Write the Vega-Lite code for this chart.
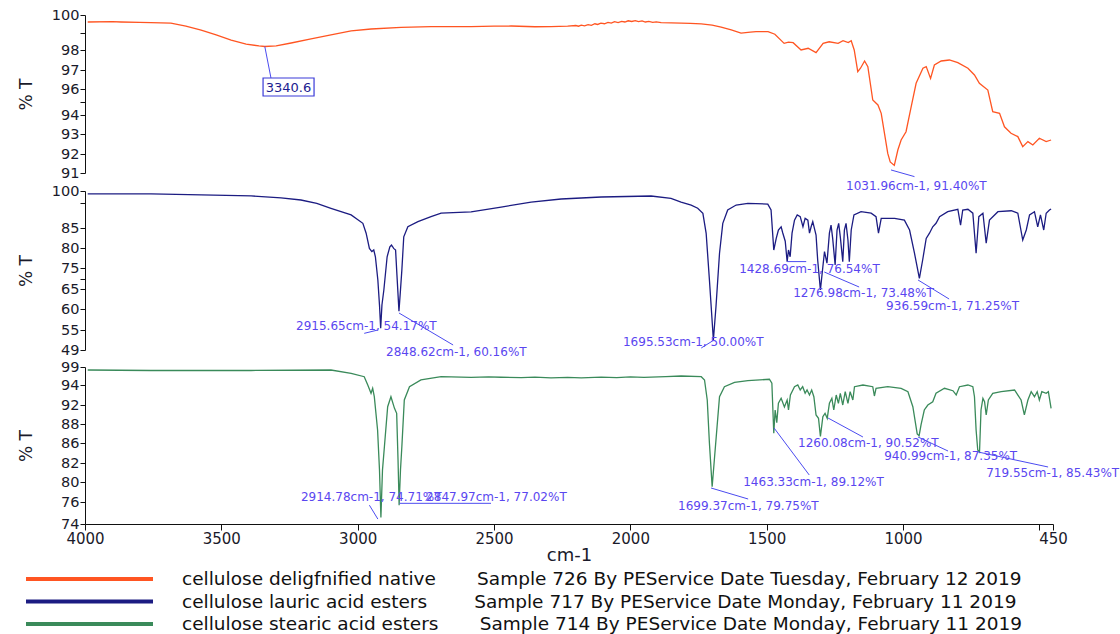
{
  "$schema": "https://vega.github.io/schema/vega-lite/v6.json",
  "padding": {"left": 17, "top": 0, "right": 0, "bottom": 0},
  "background": "white",
  "spacing": 0,
  "bounds": "flush",
  "config": {
    "view": {"stroke": null},
    "font": "DejaVu Sans",
    "axis": {"grid": false, "domainColor": "#111111", "tickColor": "#111111", "labelColor": "#1a1a2a", "titleColor": "#1a1a2a", "labelFont": "DejaVu Sans", "titleFont": "DejaVu Sans", "titleFontWeight": "normal", "labelFontSize": 14.5, "titleFontSize": 17, "tickSize": 5, "labelPadding": 1, "labelFlush": false, "labelOverlap": false, "tickCount": 100}
  },
  "resolve": {"scale": {"x": "independent", "y": "independent", "color": "independent"}, "axis": {"x": "independent", "y": "independent"}, "legend": {"color": "independent"}},
  "datasets": {
    "spectra": [
      {"s": "A", "wn": 3990, "t": 99.6}, {"s": "A", "wn": 3900, "t": 99.62}, {"s": "A", "wn": 3868, "t": 99.6}, {"s": "A", "wn": 3800, "t": 99.58}, {"s": "A", "wn": 3758, "t": 99.57}, {"s": "A", "wn": 3685, "t": 99.54}, {"s": "A", "wn": 3630, "t": 99.37}, {"s": "A", "wn": 3574, "t": 99.14}, {"s": "A", "wn": 3519, "t": 98.86}, {"s": "A", "wn": 3464, "t": 98.57}, {"s": "A", "wn": 3409, "t": 98.34}, {"s": "A", "wn": 3362, "t": 98.23}, {"s": "A", "wn": 3340.6, "t": 98.2}, {"s": "A", "wn": 3299, "t": 98.23}, {"s": "A", "wn": 3244, "t": 98.4}, {"s": "A", "wn": 3171, "t": 98.63}, {"s": "A", "wn": 3098, "t": 98.86}, {"s": "A", "wn": 3024, "t": 99.09}, {"s": "A", "wn": 2951, "t": 99.2}, {"s": "A", "wn": 2841, "t": 99.29}, {"s": "A", "wn": 2731, "t": 99.34}, {"s": "A", "wn": 2650, "t": 99.33}, {"s": "A", "wn": 2584, "t": 99.34}, {"s": "A", "wn": 2500, "t": 99.36}, {"s": "A", "wn": 2437, "t": 99.37}, {"s": "A", "wn": 2350, "t": 99.33}, {"s": "A", "wn": 2291, "t": 99.34}, {"s": "A", "wn": 2230, "t": 99.36}, {"s": "A", "wn": 2200, "t": 99.4}, {"s": "A", "wn": 2190, "t": 99.36}, {"s": "A", "wn": 2180, "t": 99.42}, {"s": "A", "wn": 2168, "t": 99.38}, {"s": "A", "wn": 2155, "t": 99.45}, {"s": "A", "wn": 2143, "t": 99.41}, {"s": "A", "wn": 2130, "t": 99.5}, {"s": "A", "wn": 2120, "t": 99.46}, {"s": "A", "wn": 2108, "t": 99.53}, {"s": "A", "wn": 2095, "t": 99.5}, {"s": "A", "wn": 2082, "t": 99.58}, {"s": "A", "wn": 2070, "t": 99.54}, {"s": "A", "wn": 2058, "t": 99.62}, {"s": "A", "wn": 2045, "t": 99.57}, {"s": "A", "wn": 2032, "t": 99.64}, {"s": "A", "wn": 2020, "t": 99.6}, {"s": "A", "wn": 2008, "t": 99.67}, {"s": "A", "wn": 1995, "t": 99.63}, {"s": "A", "wn": 1982, "t": 99.68}, {"s": "A", "wn": 1970, "t": 99.62}, {"s": "A", "wn": 1957, "t": 99.66}, {"s": "A", "wn": 1945, "t": 99.6}, {"s": "A", "wn": 1932, "t": 99.63}, {"s": "A", "wn": 1918, "t": 99.58}, {"s": "A", "wn": 1905, "t": 99.61}, {"s": "A", "wn": 1887, "t": 99.57}, {"s": "A", "wn": 1850, "t": 99.55}, {"s": "A", "wn": 1814, "t": 99.54}, {"s": "A", "wn": 1780, "t": 99.52}, {"s": "A", "wn": 1740, "t": 99.49}, {"s": "A", "wn": 1700, "t": 99.42}, {"s": "A", "wn": 1667, "t": 99.31}, {"s": "A", "wn": 1630, "t": 99.15}, {"s": "A", "wn": 1594, "t": 98.97}, {"s": "A", "wn": 1560, "t": 99.02}, {"s": "A", "wn": 1539, "t": 99.05}, {"s": "A", "wn": 1495, "t": 99.05}, {"s": "A", "wn": 1470, "t": 98.9}, {"s": "A", "wn": 1436, "t": 98.38}, {"s": "A", "wn": 1420, "t": 98.45}, {"s": "A", "wn": 1403, "t": 98.42}, {"s": "A", "wn": 1374, "t": 98.0}, {"s": "A", "wn": 1348, "t": 98.1}, {"s": "A", "wn": 1319, "t": 97.87}, {"s": "A", "wn": 1293, "t": 98.38}, {"s": "A", "wn": 1271, "t": 98.47}, {"s": "A", "wn": 1238, "t": 98.38}, {"s": "A", "wn": 1220, "t": 98.53}, {"s": "A", "wn": 1201, "t": 98.42}, {"s": "A", "wn": 1190, "t": 98.53}, {"s": "A", "wn": 1179, "t": 98.0}, {"s": "A", "wn": 1166, "t": 96.91}, {"s": "A", "wn": 1156, "t": 97.09}, {"s": "A", "wn": 1141, "t": 97.45}, {"s": "A", "wn": 1129, "t": 97.17}, {"s": "A", "wn": 1111, "t": 95.15}, {"s": "A", "wn": 1092, "t": 94.77}, {"s": "A", "wn": 1080, "t": 94.13}, {"s": "A", "wn": 1068, "t": 93.03}, {"s": "A", "wn": 1056, "t": 92.03}, {"s": "A", "wn": 1047, "t": 91.58}, {"s": "A", "wn": 1031.96, "t": 91.4}, {"s": "A", "wn": 1019, "t": 92.2}, {"s": "A", "wn": 1007, "t": 92.7}, {"s": "A", "wn": 989, "t": 93.12}, {"s": "A", "wn": 970, "t": 94.64}, {"s": "A", "wn": 952, "t": 96.3}, {"s": "A", "wn": 927, "t": 97.09}, {"s": "A", "wn": 915, "t": 97.17}, {"s": "A", "wn": 899, "t": 96.56}, {"s": "A", "wn": 885, "t": 97.25}, {"s": "A", "wn": 860, "t": 97.45}, {"s": "A", "wn": 830, "t": 97.5}, {"s": "A", "wn": 799, "t": 97.37}, {"s": "A", "wn": 762, "t": 97.09}, {"s": "A", "wn": 738, "t": 96.74}, {"s": "A", "wn": 720, "t": 96.3}, {"s": "A", "wn": 689, "t": 95.92}, {"s": "A", "wn": 671, "t": 94.25}, {"s": "A", "wn": 646, "t": 94.13}, {"s": "A", "wn": 628, "t": 93.38}, {"s": "A", "wn": 604, "t": 93.04}, {"s": "A", "wn": 579, "t": 92.87}, {"s": "A", "wn": 561, "t": 92.37}, {"s": "A", "wn": 542, "t": 92.62}, {"s": "A", "wn": 524, "t": 92.45}, {"s": "A", "wn": 500, "t": 92.79}, {"s": "A", "wn": 475, "t": 92.62}, {"s": "A", "wn": 457, "t": 92.7},

      {"s": "B", "wn": 3990, "t": 98.8}, {"s": "B", "wn": 3758, "t": 98.8}, {"s": "B", "wn": 3574, "t": 98.4}, {"s": "B", "wn": 3391, "t": 98.0}, {"s": "B", "wn": 3281, "t": 97.2}, {"s": "B", "wn": 3208, "t": 96.35}, {"s": "B", "wn": 3150, "t": 95.0}, {"s": "B", "wn": 3098, "t": 93.0}, {"s": "B", "wn": 3024, "t": 90.3}, {"s": "B", "wn": 2981, "t": 86.9}, {"s": "B", "wn": 2969, "t": 83.7}, {"s": "B", "wn": 2957, "t": 79.9}, {"s": "B", "wn": 2948, "t": 79.1}, {"s": "B", "wn": 2941, "t": 79.5}, {"s": "B", "wn": 2935, "t": 77.8}, {"s": "B", "wn": 2926, "t": 69.3}, {"s": "B", "wn": 2920, "t": 61}, {"s": "B", "wn": 2915.65, "t": 55.4}, {"s": "B", "wn": 2911, "t": 61}, {"s": "B", "wn": 2904, "t": 64.75}, {"s": "B", "wn": 2892, "t": 77.8}, {"s": "B", "wn": 2882, "t": 80.3}, {"s": "B", "wn": 2876, "t": 80.75}, {"s": "B", "wn": 2868, "t": 79.9}, {"s": "B", "wn": 2861, "t": 79.5}, {"s": "B", "wn": 2856, "t": 71.7}, {"s": "B", "wn": 2848.6, "t": 59.5}, {"s": "B", "wn": 2843, "t": 64.75}, {"s": "B", "wn": 2838, "t": 74.0}, {"s": "B", "wn": 2831, "t": 82.8}, {"s": "B", "wn": 2816, "t": 85.5}, {"s": "B", "wn": 2779, "t": 87.6}, {"s": "B", "wn": 2731, "t": 89.6}, {"s": "B", "wn": 2694, "t": 91.0}, {"s": "B", "wn": 2584, "t": 91.5}, {"s": "B", "wn": 2474, "t": 93.5}, {"s": "B", "wn": 2364, "t": 95.5}, {"s": "B", "wn": 2254, "t": 96.76}, {"s": "B", "wn": 2107, "t": 97.57}, {"s": "B", "wn": 1924, "t": 97.97}, {"s": "B", "wn": 1851, "t": 97.0}, {"s": "B", "wn": 1814, "t": 95.5}, {"s": "B", "wn": 1777, "t": 94.3}, {"s": "B", "wn": 1753, "t": 93.0}, {"s": "B", "wn": 1734, "t": 90.96}, {"s": "B", "wn": 1722, "t": 83.68}, {"s": "B", "wn": 1710, "t": 69.29}, {"s": "B", "wn": 1695.5, "t": 52.0}, {"s": "B", "wn": 1686, "t": 60.58}, {"s": "B", "wn": 1673, "t": 78.68}, {"s": "B", "wn": 1661, "t": 86.9}, {"s": "B", "wn": 1643, "t": 92.3}, {"s": "B", "wn": 1612, "t": 94.3}, {"s": "B", "wn": 1569, "t": 95.0}, {"s": "B", "wn": 1496, "t": 94.7}, {"s": "B", "wn": 1484, "t": 92.3}, {"s": "B", "wn": 1474, "t": 79.5}, {"s": "B", "wn": 1465, "t": 82.4}, {"s": "B", "wn": 1457, "t": 84.5}, {"s": "B", "wn": 1447, "t": 85.5}, {"s": "B", "wn": 1441, "t": 83.75}, {"s": "B", "wn": 1432, "t": 81.7}, {"s": "B", "wn": 1425, "t": 76.6}, {"s": "B", "wn": 1420, "t": 79.5}, {"s": "B", "wn": 1414, "t": 77.8}, {"s": "B", "wn": 1407, "t": 83.7}, {"s": "B", "wn": 1398, "t": 88.2}, {"s": "B", "wn": 1388, "t": 90.3}, {"s": "B", "wn": 1377, "t": 89.6}, {"s": "B", "wn": 1367, "t": 85.5}, {"s": "B", "wn": 1359, "t": 88.9}, {"s": "B", "wn": 1349, "t": 88.2}, {"s": "B", "wn": 1343, "t": 83.7}, {"s": "B", "wn": 1337, "t": 85.5}, {"s": "B", "wn": 1331, "t": 87.6}, {"s": "B", "wn": 1325, "t": 84.9}, {"s": "B", "wn": 1319, "t": 83.25}, {"s": "B", "wn": 1313, "t": 77.0}, {"s": "B", "wn": 1303, "t": 64.75}, {"s": "B", "wn": 1294, "t": 75.3}, {"s": "B", "wn": 1288, "t": 79.1}, {"s": "B", "wn": 1279, "t": 76.2}, {"s": "B", "wn": 1270, "t": 83.7}, {"s": "B", "wn": 1264, "t": 86.2}, {"s": "B", "wn": 1258, "t": 82.4}, {"s": "B", "wn": 1249, "t": 75.75}, {"s": "B", "wn": 1242, "t": 84.5}, {"s": "B", "wn": 1236, "t": 86.9}, {"s": "B", "wn": 1230, "t": 82.8}, {"s": "B", "wn": 1221, "t": 76.6}, {"s": "B", "wn": 1215, "t": 84.5}, {"s": "B", "wn": 1209, "t": 86.9}, {"s": "B", "wn": 1202, "t": 82.0}, {"s": "B", "wn": 1197, "t": 76.6}, {"s": "B", "wn": 1190, "t": 84.5}, {"s": "B", "wn": 1180, "t": 90.3}, {"s": "B", "wn": 1154, "t": 91.6}, {"s": "B", "wn": 1117, "t": 91.0}, {"s": "B", "wn": 1099, "t": 89.6}, {"s": "B", "wn": 1090, "t": 83.7}, {"s": "B", "wn": 1080, "t": 88.9}, {"s": "B", "wn": 1031, "t": 88.9}, {"s": "B", "wn": 995, "t": 88.2}, {"s": "B", "wn": 976, "t": 84.5}, {"s": "B", "wn": 958, "t": 78.7}, {"s": "B", "wn": 940, "t": 70.1}, {"s": "B", "wn": 928, "t": 77.0}, {"s": "B", "wn": 915, "t": 82.4}, {"s": "B", "wn": 903, "t": 83.7}, {"s": "B", "wn": 891, "t": 85.5}, {"s": "B", "wn": 879, "t": 86.9}, {"s": "B", "wn": 866, "t": 89.6}, {"s": "B", "wn": 836, "t": 91.6}, {"s": "B", "wn": 799, "t": 92.6}, {"s": "B", "wn": 789, "t": 86.2}, {"s": "B", "wn": 781, "t": 92.3}, {"s": "B", "wn": 762, "t": 92.6}, {"s": "B", "wn": 744, "t": 91.0}, {"s": "B", "wn": 732, "t": 78.7}, {"s": "B", "wn": 722, "t": 89.6}, {"s": "B", "wn": 707, "t": 91.0}, {"s": "B", "wn": 695, "t": 81.2}, {"s": "B", "wn": 683, "t": 88.2}, {"s": "B", "wn": 652, "t": 91.6}, {"s": "B", "wn": 603, "t": 92.0}, {"s": "B", "wn": 579, "t": 91.0}, {"s": "B", "wn": 561, "t": 82.0}, {"s": "B", "wn": 548, "t": 84.5}, {"s": "B", "wn": 536, "t": 90.3}, {"s": "B", "wn": 518, "t": 91.6}, {"s": "B", "wn": 506, "t": 85.5}, {"s": "B", "wn": 496, "t": 90.3}, {"s": "B", "wn": 484, "t": 84.5}, {"s": "B", "wn": 475, "t": 91.0}, {"s": "B", "wn": 463, "t": 92.3}, {"s": "B", "wn": 457, "t": 92.7},

      {"s": "C", "wn": 3990, "t": 98.17}, {"s": "C", "wn": 3758, "t": 98.03}, {"s": "C", "wn": 3391, "t": 98.03}, {"s": "C", "wn": 3098, "t": 98.17}, {"s": "C", "wn": 3024, "t": 97.25}, {"s": "C", "wn": 2976, "t": 96.3}, {"s": "C", "wn": 2963, "t": 94.0}, {"s": "C", "wn": 2951, "t": 93.17}, {"s": "C", "wn": 2945, "t": 93.67}, {"s": "C", "wn": 2939, "t": 92.83}, {"s": "C", "wn": 2927, "t": 87.37}, {"s": "C", "wn": 2920, "t": 81.26}, {"s": "C", "wn": 2914.8, "t": 74.6}, {"s": "C", "wn": 2909, "t": 81.26}, {"s": "C", "wn": 2902, "t": 85.26}, {"s": "C", "wn": 2890, "t": 91.64}, {"s": "C", "wn": 2878, "t": 92.83}, {"s": "C", "wn": 2865, "t": 91.3}, {"s": "C", "wn": 2857, "t": 90.24}, {"s": "C", "wn": 2852, "t": 82.6}, {"s": "C", "wn": 2848, "t": 75.7}, {"s": "C", "wn": 2843, "t": 81.26}, {"s": "C", "wn": 2838, "t": 85.26}, {"s": "C", "wn": 2829, "t": 92.5}, {"s": "C", "wn": 2810, "t": 93.83}, {"s": "C", "wn": 2768, "t": 95.4}, {"s": "C", "wn": 2694, "t": 96.3}, {"s": "C", "wn": 2584, "t": 96.1}, {"s": "C", "wn": 2520, "t": 96.25}, {"s": "C", "wn": 2474, "t": 96.15}, {"s": "C", "wn": 2400, "t": 96.05}, {"s": "C", "wn": 2350, "t": 96.2}, {"s": "C", "wn": 2291, "t": 96.0}, {"s": "C", "wn": 2230, "t": 96.1}, {"s": "C", "wn": 2180, "t": 96.0}, {"s": "C", "wn": 2107, "t": 96.2}, {"s": "C", "wn": 2050, "t": 96.05}, {"s": "C", "wn": 2000, "t": 96.25}, {"s": "C", "wn": 1950, "t": 96.1}, {"s": "C", "wn": 1924, "t": 96.2}, {"s": "C", "wn": 1870, "t": 96.35}, {"s": "C", "wn": 1814, "t": 96.5}, {"s": "C", "wn": 1740, "t": 96.3}, {"s": "C", "wn": 1728, "t": 95.4}, {"s": "C", "wn": 1718, "t": 92.5}, {"s": "C", "wn": 1710, "t": 85.94}, {"s": "C", "wn": 1700, "t": 79.06}, {"s": "C", "wn": 1692, "t": 82.6}, {"s": "C", "wn": 1682, "t": 87.72}, {"s": "C", "wn": 1673, "t": 92.83}, {"s": "C", "wn": 1655, "t": 93.83}, {"s": "C", "wn": 1618, "t": 94.73}, {"s": "C", "wn": 1569, "t": 95.2}, {"s": "C", "wn": 1490, "t": 95.6}, {"s": "C", "wn": 1481, "t": 94.5}, {"s": "C", "wn": 1474, "t": 87.02}, {"s": "C", "wn": 1469, "t": 90.95}, {"s": "C", "wn": 1463, "t": 88.28}, {"s": "C", "wn": 1457, "t": 92.17}, {"s": "C", "wn": 1447, "t": 92.67}, {"s": "C", "wn": 1435, "t": 91.6}, {"s": "C", "wn": 1425, "t": 92.5}, {"s": "C", "wn": 1420, "t": 90.95}, {"s": "C", "wn": 1413, "t": 93.0}, {"s": "C", "wn": 1398, "t": 93.83}, {"s": "C", "wn": 1386, "t": 94.0}, {"s": "C", "wn": 1377, "t": 93.5}, {"s": "C", "wn": 1368, "t": 93.83}, {"s": "C", "wn": 1359, "t": 93.17}, {"s": "C", "wn": 1352, "t": 93.5}, {"s": "C", "wn": 1343, "t": 93.0}, {"s": "C", "wn": 1335, "t": 93.5}, {"s": "C", "wn": 1327, "t": 92.83}, {"s": "C", "wn": 1319, "t": 89.9}, {"s": "C", "wn": 1310, "t": 89.2}, {"s": "C", "wn": 1303, "t": 86.7}, {"s": "C", "wn": 1294, "t": 89.54}, {"s": "C", "wn": 1286, "t": 90.25}, {"s": "C", "wn": 1278, "t": 89.2}, {"s": "C", "wn": 1270, "t": 92.17}, {"s": "C", "wn": 1261, "t": 92.67}, {"s": "C", "wn": 1254, "t": 90.95}, {"s": "C", "wn": 1245, "t": 93.0}, {"s": "C", "wn": 1237, "t": 92.17}, {"s": "C", "wn": 1230, "t": 93.17}, {"s": "C", "wn": 1221, "t": 92.0}, {"s": "C", "wn": 1212, "t": 93.33}, {"s": "C", "wn": 1202, "t": 92.17}, {"s": "C", "wn": 1194, "t": 93.33}, {"s": "C", "wn": 1184, "t": 92.5}, {"s": "C", "wn": 1178, "t": 93.83}, {"s": "C", "wn": 1147, "t": 94.0}, {"s": "C", "wn": 1111, "t": 93.83}, {"s": "C", "wn": 1105, "t": 92.9}, {"s": "C", "wn": 1099, "t": 93.67}, {"s": "C", "wn": 1056, "t": 93.83}, {"s": "C", "wn": 1007, "t": 93.67}, {"s": "C", "wn": 982, "t": 93.33}, {"s": "C", "wn": 964, "t": 91.64}, {"s": "C", "wn": 948, "t": 86.95}, {"s": "C", "wn": 941, "t": 86.77}, {"s": "C", "wn": 934, "t": 87.9}, {"s": "C", "wn": 922, "t": 90.95}, {"s": "C", "wn": 909, "t": 92.0}, {"s": "C", "wn": 891, "t": 92.33}, {"s": "C", "wn": 879, "t": 93.17}, {"s": "C", "wn": 848, "t": 93.67}, {"s": "C", "wn": 817, "t": 93.43}, {"s": "C", "wn": 805, "t": 93.0}, {"s": "C", "wn": 793, "t": 93.83}, {"s": "C", "wn": 762, "t": 94.0}, {"s": "C", "wn": 744, "t": 93.83}, {"s": "C", "wn": 738, "t": 92.83}, {"s": "C", "wn": 732, "t": 87.37}, {"s": "C", "wn": 726, "t": 84.6}, {"s": "C", "wn": 719.5, "t": 84.2}, {"s": "C", "wn": 714, "t": 90.95}, {"s": "C", "wn": 707, "t": 92.67}, {"s": "C", "wn": 701, "t": 92.33}, {"s": "C", "wn": 695, "t": 89.9}, {"s": "C", "wn": 687, "t": 92.5}, {"s": "C", "wn": 671, "t": 93.17}, {"s": "C", "wn": 640, "t": 93.33}, {"s": "C", "wn": 591, "t": 93.5}, {"s": "C", "wn": 567, "t": 92.5}, {"s": "C", "wn": 555, "t": 89.9}, {"s": "C", "wn": 542, "t": 92.5}, {"s": "C", "wn": 530, "t": 93.33}, {"s": "C", "wn": 518, "t": 92.83}, {"s": "C", "wn": 508, "t": 93.33}, {"s": "C", "wn": 500, "t": 92.5}, {"s": "C", "wn": 491, "t": 93.33}, {"s": "C", "wn": 475, "t": 93.17}, {"s": "C", "wn": 467, "t": 93.33}, {"s": "C", "wn": 457, "t": 91.3}
    ],
    "notes": [
      {"p": 1, "label": "1031.96cm-1, 91.40%T", "wn": 1209, "t": 90.32, "x1": 1044, "y1": 91.16, "x2": 958, "y2": 90.81},
      {"p": 1, "label": "", "wn": 3340.6, "t": 98.2, "x1": 3340.6, "y1": 98.2, "x2": 3318, "y2": 96.58},
      {"p": 2, "label": "2915.65cm-1, 54.17%T", "wn": 3226, "t": 55.95, "x1": 2926, "y1": 55.0, "x2": 2976, "y2": 54.0},
      {"p": 2, "label": "2848.62cm-1, 60.16%T", "wn": 2896, "t": 48.4, "x1": 2848.6, "y1": 59.05, "x2": 2650, "y2": 50.5},
      {"p": 2, "label": "1695.53cm-1, 50.00%T", "wn": 2027, "t": 51.4, "x1": 1699, "y1": 51.7, "x2": 1740, "y2": 49.6},
      {"p": 2, "label": "1428.69cm-1, 76.54%T", "wn": 1601, "t": 74.5, "x1": 1425, "y1": 76.6, "x2": 1355, "y2": 76.6},
      {"p": 2, "label": "1276.98cm-1, 73.48%T", "wn": 1403, "t": 64.0, "x1": 1289, "y1": 73.1, "x2": 1161, "y2": 65.95},
      {"p": 2, "label": "936.59cm-1, 71.25%T", "wn": 1062, "t": 60.75, "x1": 945, "y1": 69.3, "x2": 831, "y2": 62.5},
      {"p": 3, "label": "2914.78cm-1, 74.71%T", "wn": 3208, "t": 77.0, "x1": 2957, "y1": 75.71, "x2": 2926, "y2": 74.45},
      {"p": 3, "label": "2847.97cm-1, 77.02%T", "wn": 2749, "t": 77.0, "x1": 2847, "y1": 75.88, "x2": 2511, "y2": 75.88},
      {"p": 3, "label": "1699.37cm-1, 79.75%T", "wn": 1825, "t": 75.62, "x1": 1704, "y1": 78.8, "x2": 1568, "y2": 76.6},
      {"p": 3, "label": "1463.33cm-1, 89.12%T", "wn": 1586, "t": 80.0, "x1": 1473, "y1": 87.58, "x2": 1344, "y2": 80.74},
      {"p": 3, "label": "1260.08cm-1, 90.52%T", "wn": 1385, "t": 86.0, "x1": 1275, "y1": 89.26, "x2": 1147, "y2": 86.63},
      {"p": 3, "label": "940.99cm-1, 87.35%T", "wn": 1069, "t": 83.4, "x1": 945, "y1": 86.63, "x2": 835, "y2": 84.4},
      {"p": 3, "label": "719.55cm-1, 85.43%T", "wn": 695, "t": 80.95, "x1": 724.5, "y1": 84.2, "x2": 468, "y2": 81.58}
    ],
    "boxes": [
      {"label": "3340.6", "x1": 3347, "x2": 3160, "y1": 96.58, "y2": 95.46, "xm": 3254, "ym": 96.03}
    ]
  },
  "vconcat": [
    {
      "width": 968,
      "height": 180,
      "layer": [
        {
          "data": {"name": "spectra"},
          "transform": [{"filter": "datum.s == 'A'"}],
          "mark": {"type": "line", "color": "#ff5522", "strokeWidth": 1.3},
          "encoding": {
            "x": {"field": "wn", "type": "quantitative", "scale": {"domain": [4000, 450], "nice": false, "zero": false}, "axis": null},
            "y": {"field": "t", "type": "quantitative", "scale": {"domain": [91, 92, 93, 94, 96, 97, 98, 100], "range": [173, 154, 134, 115, 89, 70, 50, 15], "nice": false, "zero": false},
              "axis": {"title": "% T", "values": [100, 99, 98, 97, 96, 95, 94, 93, 92, 91], "tickCount": 100, "format": "d", "labelExpr": "datum.value == 99 || datum.value == 95 ? '' : datum.label", "titleX": -59, "titleBaseline": "middle"}}
          }
        },
        {
          "data": {"name": "notes"},
          "transform": [{"filter": "datum.p == 1"}],
          "mark": {"type": "rule", "color": "#4b4bf0", "strokeWidth": 1},
          "encoding": {
            "x": {"field": "x1", "type": "quantitative"},
            "x2": {"field": "x2"},
            "y": {"field": "y1", "type": "quantitative"},
            "y2": {"field": "y2"}
          }
        },
        {
          "data": {"name": "notes"},
          "transform": [{"filter": "datum.p == 1"}],
          "mark": {"type": "text", "align": "left", "baseline": "middle", "fontSize": 12, "font": "DejaVu Sans", "color": "#5a46f0"},
          "encoding": {
            "x": {"field": "wn", "type": "quantitative"},
            "y": {"field": "t", "type": "quantitative"},
            "text": {"field": "label"}
          }
        },
        {
          "data": {"name": "boxes"},
          "mark": {"type": "rect", "fill": "white", "fillOpacity": 0, "stroke": "#3a3ad8", "strokeWidth": 1.2},
          "encoding": {
            "x": {"field": "x1", "type": "quantitative"},
            "x2": {"field": "x2"},
            "y": {"field": "y1", "type": "quantitative"},
            "y2": {"field": "y2"}
          }
        },
        {
          "data": {"name": "boxes"},
          "mark": {"type": "text", "align": "center", "baseline": "middle", "fontSize": 13, "font": "DejaVu Sans", "color": "#1c1c90"},
          "encoding": {
            "x": {"field": "xm", "type": "quantitative"},
            "y": {"field": "ym", "type": "quantitative"},
            "text": {"field": "label"}
          }
        }
      ]
    },
    {
      "width": 968,
      "height": 178,
      "layer": [
        {
          "data": {"name": "spectra"},
          "transform": [{"filter": "datum.s == 'B'"}],
          "mark": {"type": "line", "color": "#1c1c82", "strokeWidth": 1.3},
          "encoding": {
            "x": {"field": "wn", "type": "quantitative", "scale": {"domain": [4000, 450], "nice": false, "zero": false}, "axis": null},
            "y": {"field": "t", "type": "quantitative", "scale": {"domain": [49, 55, 60, 65, 75, 80, 85, 100], "range": [170, 150, 129, 109, 88, 68, 48, 11], "nice": false, "zero": false},
              "axis": {"title": "% T", "values": [100, 95, 85, 80, 75, 70, 65, 60, 55, 49], "tickCount": 100, "format": "d", "labelExpr": "datum.value == 95 || datum.value == 70 ? '' : datum.label", "titleX": -59, "titleBaseline": "middle"}}
          }
        },
        {
          "data": {"name": "notes"},
          "transform": [{"filter": "datum.p == 2"}],
          "mark": {"type": "rule", "color": "#4b4bf0", "strokeWidth": 1},
          "encoding": {
            "x": {"field": "x1", "type": "quantitative"},
            "x2": {"field": "x2"},
            "y": {"field": "y1", "type": "quantitative"},
            "y2": {"field": "y2"}
          }
        },
        {
          "data": {"name": "notes"},
          "transform": [{"filter": "datum.p == 2"}],
          "mark": {"type": "text", "align": "left", "baseline": "middle", "fontSize": 12, "font": "DejaVu Sans", "color": "#5a46f0"},
          "encoding": {
            "x": {"field": "wn", "type": "quantitative"},
            "y": {"field": "t", "type": "quantitative"},
            "text": {"field": "label"}
          }
        }
      ]
    },
    {
      "width": 968,
      "height": 166,
      "layer": [
        {
          "data": {"name": "spectra"},
          "transform": [{"filter": "datum.s == 'C'"}],
          "mark": {"type": "line", "strokeWidth": 1.3},
          "encoding": {
            "x": {"field": "wn", "type": "quantitative", "scale": {"domain": [4000, 450], "nice": false, "zero": false},
              "axis": {"title": "cm-1", "values": [4000, 3500, 3000, 2500, 2000, 1500, 1000, 500, 450], "tickCount": 100, "format": "d", "labelExpr": "datum.value == 500 ? '' : datum.label", "labelFontSize": 15, "titleFontSize": 18, "tickSize": 6, "labelPadding": 1, "titlePadding": 0}},
            "y": {"field": "t", "type": "quantitative", "scale": {"domain": [74, 76, 80, 82, 86, 88, 92, 94, 99], "range": [166, 144, 124, 105, 85, 66, 47, 27, 9], "nice": false, "zero": false},
              "axis": {"title": "% T", "values": [99, 94, 92, 88, 86, 82, 80, 76, 74], "tickCount": 100, "format": "d", "titleX": -59, "titleBaseline": "middle"}},
            "color": {"field": "s", "type": "nominal", "scale": {"domain": ["A", "B", "C"], "range": ["#ff5522", "#1c1c82", "#3a8a5a"]},
              "legend": {"orient": "none", "legendX": -61, "legendY": 211, "direction": "vertical", "title": null, "padding": 0, "symbolType": "stroke", "symbolSize": 16129, "symbolStrokeWidth": 4, "clipHeight": 20, "rowPadding": 2.5, "labelFontSize": 18.5, "labelFont": "DejaVu Sans", "labelColor": "#111111", "labelOffset": 27, "labelLimit": 1000,
                "labelExpr": "datum.value == 'A' ? 'cellulose deligfnified native\u00a0\u00a0\u00a0\u00a0\u00a0\u00a0\u00a0Sample 726 By PEService Date Tuesday, February 12 2019' : datum.value == 'B' ? 'cellulose lauric acid esters\u00a0\u00a0\u00a0\u00a0\u00a0\u00a0\u00a0\u00a0Sample 717 By PEService Date Monday, February 11 2019' : 'cellulose stearic acid esters\u00a0\u00a0\u00a0\u00a0\u00a0\u00a0\u00a0Sample 714 By PEService Date Monday, February 11 2019'"}}
          }
        },
        {
          "data": {"name": "notes"},
          "transform": [{"filter": "datum.p == 3"}],
          "mark": {"type": "rule", "color": "#4b4bf0", "strokeWidth": 1},
          "encoding": {
            "x": {"field": "x1", "type": "quantitative"},
            "x2": {"field": "x2"},
            "y": {"field": "y1", "type": "quantitative"},
            "y2": {"field": "y2"}
          }
        },
        {
          "data": {"name": "notes"},
          "transform": [{"filter": "datum.p == 3"}],
          "mark": {"type": "text", "align": "left", "baseline": "middle", "fontSize": 12, "font": "DejaVu Sans", "color": "#5a46f0"},
          "encoding": {
            "x": {"field": "wn", "type": "quantitative"},
            "y": {"field": "t", "type": "quantitative"},
            "text": {"field": "label"}
          }
        }
      ]
    }
  ]
}
